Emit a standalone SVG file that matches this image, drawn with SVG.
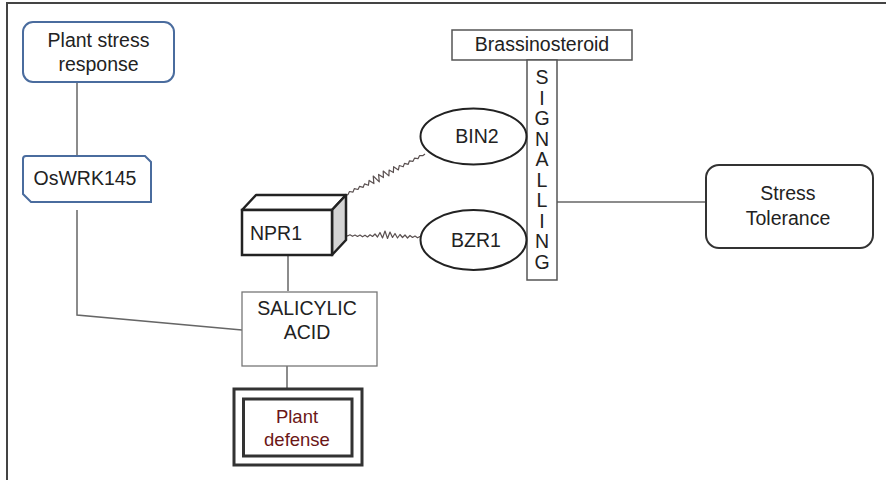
<svg xmlns="http://www.w3.org/2000/svg" width="886" height="480" viewBox="0 0 886 480">
  <defs>
    <style>
      .lbl { font-family: "Liberation Sans", Arial, Helvetica, sans-serif; font-size: 19.5px; fill: #222; text-anchor: middle; }
      .blue { fill: #fff; stroke: #4a6c9e; stroke-width: 2; }
      .link { fill: none; stroke: #666; stroke-width: 1.5; }
      .wave { fill: none; stroke: #5a5050; stroke-width: 1.2; stroke-linejoin: round; }
      .oval { fill: #fff; stroke: #222; stroke-width: 2; }
    </style>
  </defs>
  <rect width="886" height="480" fill="#fff"/>

  <!-- frame -->
  <path d="M7,480 V3 H886" fill="none" stroke="#444" stroke-width="2"/>

  <!-- connectors -->
  <g id="connectors">
    <path class="link" d="M77,82 V156"/>
    <path class="link" d="M77,210 V315 L242,330"/>
    <path class="link" d="M288,256 V291"/>
    <path class="link" d="M287,366 V389"/>
    <path class="link" d="M557,202 H706"/>
    <polyline class="wave" points="345,195 348,194.6 349.5,191.5 353,192.1 354.3,188.6 358,189.5 359.5,186.4 363.2,187.3 364.5,183.9 368.4,185.3 369.1,180.4 373.9,183.6 373.2,176 379.3,181.9 378.6,174.4 383.4,177.6 383.2,171 388.9,175.9 389.1,170.1 393.4,172.5 393.6,166.7 398.4,169.9 399.3,165.5 403.2,166.8 404.5,163.4 408.2,164.3 409.5,160.8 413,161.3 414.5,158.2 418,158.7 419.5,155.7 422.7,155.7 425,154"/>
    <polyline class="wave" points="340,235 342.5,236 345,234.5 347.5,236 350,234.8 352.5,236.3 355,235 357.5,236.5 360,235 362.5,236.8 365,235.2 367.5,237 370,234.8 372.5,236.5 375,234 377.5,237 380,232.5 382.5,238 385,231 387.5,238.5 390,232 392.5,237.5 395,233.5 397.5,238 400,234.5 402.5,237.5 405,235 407.5,238 410,235.5 412.5,237.5 415,236 417.5,237.8 420,236.5 422,237"/>
  </g>

  <g id="plant-stress-response">
    <rect class="blue" x="23" y="22" width="151" height="60" rx="10"/>
    <text class="lbl" x="98.5" y="47">Plant stress</text>
    <text class="lbl" x="98.5" y="71">response</text>
  </g>

  <g id="oswrk145">
    <path class="blue" d="M26,156 H145 L151,162 V202 H31 L23,194 V159 Q23,156 26,156 Z"/>
    <text class="lbl" x="85" y="185">OsWRK145</text>
  </g>

  <g id="npr1">
    <path d="M242,210 L256,195 H346 L332,210 Z" fill="#fff" stroke="#222" stroke-width="2.5" stroke-linejoin="round"/>
    <path d="M332,210 L346,195 V240 L332,255 Z" fill="#d4d4d4" stroke="#222" stroke-width="2.5" stroke-linejoin="round"/>
    <rect x="242" y="210" width="90" height="45" fill="#fff" stroke="#222" stroke-width="2.5"/>
    <text class="lbl" x="250" y="240" style="text-anchor:start">NPR1</text>
  </g>

  <g id="salicylic-acid">
    <rect x="242" y="292" width="135" height="74" fill="#fff" stroke="#777" stroke-width="1.3"/>
    <text class="lbl" x="307" y="315">SALICYLIC</text>
    <text class="lbl" x="307" y="339">ACID</text>
  </g>

  <g id="plant-defense">
    <rect x="234" y="389" width="128" height="76" fill="#fff" stroke="#333" stroke-width="3"/>
    <rect x="243.5" y="399" width="108.5" height="57" fill="none" stroke="#333" stroke-width="3"/>
    <text class="lbl" x="297" y="423" style="font-size:18.5px;fill:#6b1616">Plant</text>
    <text class="lbl" x="297" y="446" style="font-size:18.5px;fill:#6b1616">defense</text>
  </g>

  <g id="brassinosteroid">
    <rect x="452" y="30" width="180" height="30" fill="#fff" stroke="#555" stroke-width="1.5"/>
    <text class="lbl" x="542" y="51">Brassinosteroid</text>
  </g>

  <g id="signalling">
    <rect x="527" y="60" width="30" height="220" fill="#fff" stroke="#555" stroke-width="1.5"/>
    <text class="lbl" x="542" y="84">S</text>
    <text class="lbl" x="542" y="104.5">I</text>
    <text class="lbl" x="542" y="125">G</text>
    <text class="lbl" x="542" y="145.5">N</text>
    <text class="lbl" x="542" y="166">A</text>
    <text class="lbl" x="542" y="186.5">L</text>
    <text class="lbl" x="542" y="207">L</text>
    <text class="lbl" x="542" y="227.5">I</text>
    <text class="lbl" x="542" y="248">N</text>
    <text class="lbl" x="542" y="268.5">G</text>
  </g>

  <g id="bin2">
    <ellipse class="oval" cx="473.5" cy="136.5" rx="53" ry="28"/>
    <text class="lbl" x="477" y="143">BIN2</text>
  </g>

  <g id="bzr1">
    <ellipse class="oval" cx="473.5" cy="240" rx="53" ry="30"/>
    <text class="lbl" x="476" y="247">BZR1</text>
  </g>

  <g id="stress-tolerance">
    <rect x="706" y="165" width="167" height="83" rx="13" fill="#fff" stroke="#333" stroke-width="2"/>
    <text class="lbl" x="788" y="200">Stress</text>
    <text class="lbl" x="788" y="225">Tolerance</text>
  </g>
</svg>
